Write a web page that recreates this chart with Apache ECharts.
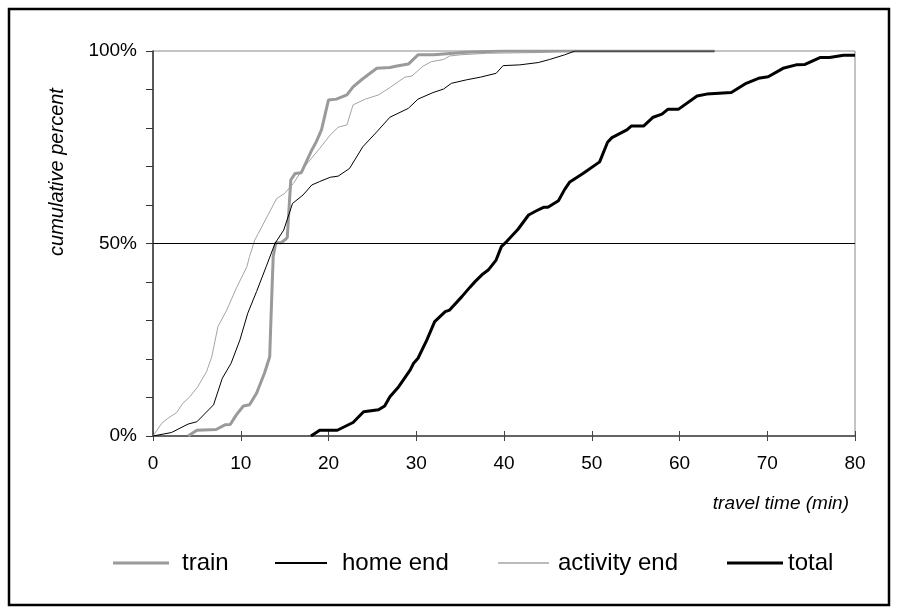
<!DOCTYPE html>
<html>
<head>
<meta charset="utf-8">
<script src="https://cdn.jsdelivr.net/npm/echarts@6/dist/echarts.min.js"></script>
<style>
html,body{margin:0;padding:0;background:#fff;}
#chart{width:899px;height:612px;}
</style>
</head>
<body>
<div id="chart"></div>
<script>
// [travel time (min), cumulative percent]
const trainData = [[4,0],[5,1.5],[7.2,1.7],[8.2,2.9],[8.8,3.0],[9.5,5.5],[10.3,7.8],[11,8.1],[11.8,11.1],[12.7,16.3],[13.3,20.6],[13.4,27.5],[13.6,40.5],[13.7,46.6],[14,50.2],[14.6,50.2],[15,50.9],[15.3,51.5],[15.7,66.5],[16.2,68.2],[16.9,68.4],[18.1,74.3],[18.6,76.4],[19.2,79.5],[20,87.3],[20.9,87.5],[22.1,88.6],[22.8,90.7],[23.8,92.6],[25.5,95.5],[27,95.7],[27.8,96.1],[29.1,96.6],[30.2,99],[32,99],[34.2,99.4],[35.7,99.7],[40,100],[64,100]];
const homeEndData = [[0,0],[2.1,0.9],[4,3.1],[5,3.7],[6.9,8.1],[7.9,15],[8.9,18.9],[9.9,24.9],[10.8,31.9],[11.8,37.5],[12.9,44],[13.9,50],[14.9,53.5],[15.9,60.4],[17.1,62.6],[18.1,65.2],[19,66.1],[20.2,67.2],[21.1,67.5],[22.4,69.5],[23.9,75.1],[25.5,79],[27,82.8],[29.1,85.1],[30.2,87.5],[31.9,89.2],[33.1,90.1],[34,91.6],[35.7,92.5],[37.3,93.2],[39.1,94.2],[39.9,96.2],[41.8,96.4],[43.9,97],[45.2,97.8],[46.9,99],[48.1,100],[64,100]];
const activityEndData = [[0,0],[1,3.3],[1.7,4.6],[2.7,6.1],[3.4,8.5],[4.2,10.2],[5.1,12.8],[6.1,16.7],[6.7,20.6],[7.4,28.4],[8.4,32.7],[9.5,38.4],[10.7,44],[11,46.6],[11.6,50.9],[12,52.6],[12.8,56.1],[14.1,61.7],[15,63],[16,65.6],[17.1,69.5],[19,74.7],[20.2,78.2],[21.1,80.2],[22.1,80.8],[22.8,86],[24.2,87.5],[25.7,88.6],[27,90.5],[28.7,93.2],[29.5,93.5],[30.8,96.1],[31.7,97.2],[33.1,97.8],[33.8,98.7],[35,99],[38,99.4],[44,99.6],[48,100],[64,100]];
const totalData = [[18,0],[19,1.5],[21,1.5],[22.8,3.5],[24,6.3],[25.7,6.8],[26.4,7.8],[27,10.2],[28,12.8],[29.3,17.1],[29.7,18.9],[30.2,20.2],[31.2,24.9],[32.1,29.7],[33.3,32.3],[33.8,32.7],[35.2,36.2],[36.1,38.6],[36.7,40.1],[37.6,42.1],[38.2,43.1],[39.1,45.7],[39.7,49.2],[40.3,50.5],[41.6,53.7],[42.8,57.4],[43.7,58.5],[44.5,59.4],[45,59.4],[46.2,61.1],[46.9,64],[47.5,66],[49,68.2],[50.9,71.2],[51.8,76.3],[52.3,77.5],[54,79.5],[54.5,80.5],[55.9,80.5],[57,82.8],[58,83.6],[58.7,84.9],[59.9,84.9],[62,88.3],[63.1,88.8],[65.9,89.2],[67.6,91.6],[69,92.9],[70.1,93.3],[71.8,95.5],[73.3,96.4],[74.3,96.5],[76,98.3],[77.1,98.3],[78.7,98.9],[80,98.9]];

const seriesNames = ['train','home end','activity end','total'];
const yLabelValues = [0,50,100];
const xTitle = 'travel time (min)';
const yTitle = 'cumulative percent';

const FONT = '"Liberation Sans", Arial, sans-serif';
const chart = echarts.init(document.getElementById('chart'), null, {renderer:'canvas'});

function legendAt(name, left, width, thick, pad){
  return {
    data:[name], left:left, top:546, icon:'rect', itemWidth:width, itemHeight:thick, itemGap:0,
    textStyle:{fontFamily:FONT, fontSize:24, color:'#000', padding:[0,0,0,pad]},
    selectedMode:false
  };
}

chart.setOption({
  animation:false,
  backgroundColor:'#fff',
  grid:{left:153, right:44, top:51, bottom:176, show:true, borderColor:'#8a8a8a', borderWidth:1, backgroundColor:'transparent'},
  legend:[
    legendAt(seriesNames[0],108,56,3,8),
    legendAt(seriesNames[1],270,52,2,10),
    legendAt(seriesNames[2],493,51,1.5,4),
    legendAt(seriesNames[3],722,56,3,0)
  ],
  xAxis:[{
    type:'value', min:0, max:80, interval:10,
    axisLine:{show:true, lineStyle:{color:'#444', width:1.5}},
    axisTick:{show:true, length:5, lineStyle:{color:'#444'}},
    axisLabel:{fontFamily:FONT, fontSize:19, color:'#000', margin:18},
    splitLine:{show:false}
  },{
    type:'value', min:0, max:80, interval:10, position:'bottom',
    axisLine:{show:false},
    axisTick:{show:true, inside:true, length:5, lineStyle:{color:'#444'}},
    axisLabel:{show:false},
    splitLine:{show:false}
  }],
  yAxis:{
    type:'value', min:0, max:100, interval:10,
    axisLine:{show:true, lineStyle:{color:'#333', width:1.5}},
    axisTick:{show:true, length:7, lineStyle:{color:'#333'}},
    axisLabel:{fontFamily:FONT, fontSize:19, color:'#000', margin:16,
      formatter:function(v){ return yLabelValues.indexOf(v) >= 0 ? v + '%' : ''; }},
    splitLine:{show:false}
  },
  graphic:[
    {type:'rect', shape:{x:9, y:9, width:880, height:596}, style:{fill:'none', stroke:'#000', lineWidth:2.5}, silent:true},
    {type:'text', right:50, top:494, style:{text:xTitle, font:'italic 19px "Liberation Sans", Arial, sans-serif', fill:'#000', textAlign:'right'}},
    {type:'text', x:57, y:172, rotation:Math.PI/2, style:{text:yTitle, font:'italic 20px "Liberation Sans", Arial, sans-serif', fill:'#000', textAlign:'center', textVerticalAlign:'middle'}}
  ],
  series:[
    {name:seriesNames[0], type:'line', data:trainData, symbol:'none', lineStyle:{color:'#9a9a9a', width:3}, itemStyle:{color:'#9a9a9a'}, z:3},
    {name:seriesNames[1], type:'line', data:homeEndData, symbol:'none', lineStyle:{color:'#000', width:1}, itemStyle:{color:'#000'}, z:4},
    {name:seriesNames[2], type:'line', data:activityEndData, symbol:'none', lineStyle:{color:'#a4a4a4', width:1}, itemStyle:{color:'#a4a4a4'}, z:2,
      markLine:{silent:true, symbol:'none', label:{show:false}, lineStyle:{color:'#000', width:1, type:'solid'}, data:[{yAxis:50}]}},
    {name:seriesNames[3], type:'line', data:totalData, symbol:'none', lineStyle:{color:'#000', width:3}, itemStyle:{color:'#000'}, z:5}
  ]
});
</script>
</body>
</html>
